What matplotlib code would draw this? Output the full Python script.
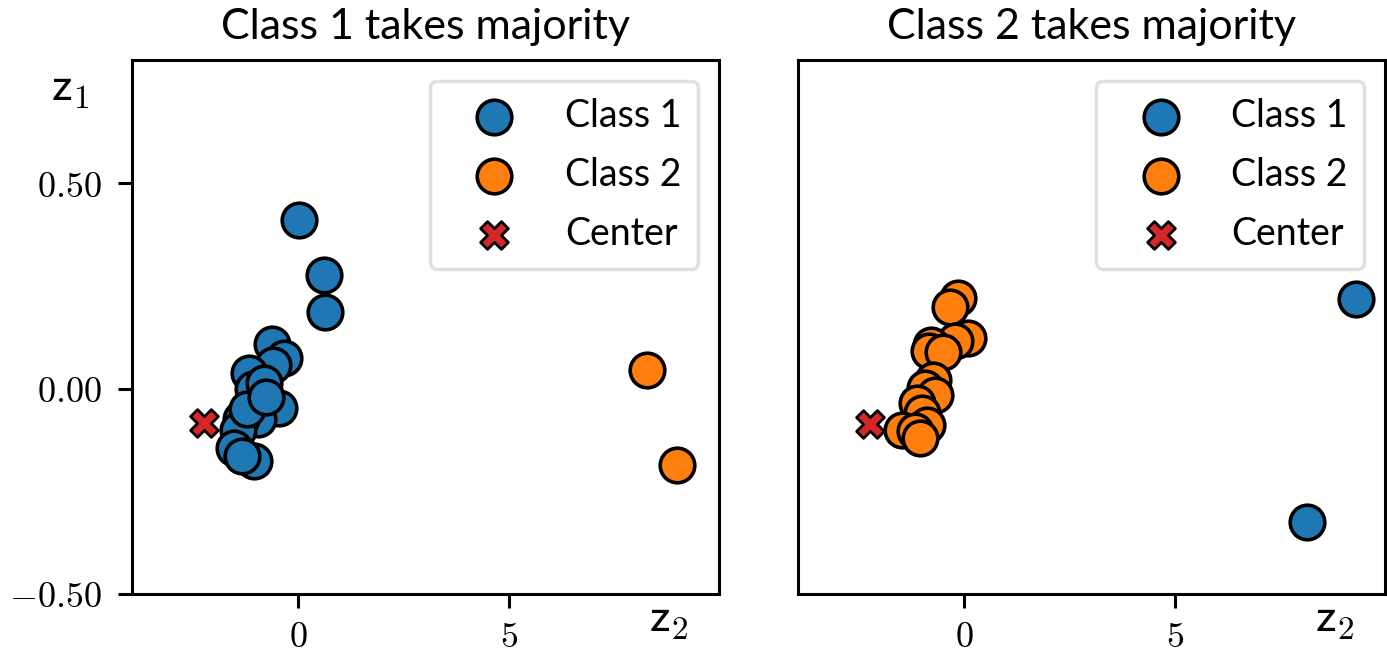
import numpy as np
import matplotlib.pyplot as plt
from matplotlib.ticker import FormatStrFormatter

plt.rcParams['mathtext.fontset'] = 'cm'
plt.rcParams['font.family'] = ['Lato', 'DejaVu Sans']

# panel 1: class 1 takes majority
c1_left_x = [0.03, 0.61, 0.64, -0.62, -0.32, -0.59, -1.15, -1.07, -0.80, -0.44,
             -0.95, -1.35, -1.43, -1.51, -1.04, -1.33, -1.20, -0.75]
c1_left_y = [0.41, 0.276, 0.187, 0.109, 0.075, 0.058, 0.038, -0.002, 0.014, -0.047,
             -0.075, -0.075, -0.10, -0.144, -0.177, -0.165, -0.05, -0.02]
c2_left_x = [8.27, 8.98]
c2_left_y = [0.046, -0.185]

# panel 2: class 2 takes majority
c1_right_x = [9.29, 8.13]
c1_right_y = [0.217, -0.324]
c2_right_x = [-0.13, -0.33, 0.10, -0.21, -0.77, -0.84, -0.50, -0.73, -0.92, -0.69,
              -1.12, -1.00, -0.88, -1.47, -1.16, -1.04]
c2_right_y = [0.221, 0.199, 0.123, 0.115, 0.107, 0.091, 0.088, 0.022, 0.002, -0.015,
              -0.035, -0.059, -0.088, -0.10, -0.104, -0.12]

center_x = [-2.22, -2.23]
center_y = [-0.083, -0.085]

titles = ['Class 1 takes majority', 'Class 2 takes majority']
panels = [
    (c1_left_x, c1_left_y, c2_left_x, c2_left_y, center_x[0], center_y[0]),
    (c1_right_x, c1_right_y, c2_right_x, c2_right_y, center_x[1], center_y[1]),
]

fig, axes = plt.subplots(1, 2, figsize=(13.87, 6.53), dpi=100, sharey=True)
fig.subplots_adjust(left=0.0952, right=0.9986, bottom=0.0904, top=0.9081, wspace=0.135)

for ax, title, (bx, by, ox, oy, cx, cy) in zip(axes, titles, panels):
    ax.scatter(bx, by, s=620, c='#1f77b4', edgecolors='black', linewidths=2.6,
               label='Class 1', zorder=3)
    ax.scatter(ox, oy, s=620, c='#ff7f0e', edgecolors='black', linewidths=2.6,
               label='Class 2', zorder=3)
    ax.scatter([cx], [cy], s=400, marker='X', c='#d62728', edgecolors='black',
               linewidths=2.0, label='Center', zorder=4)
    ax.set_title(title, fontsize=31, pad=15)
    ax.set_xlim(-3.93, 9.98)
    ax.set_ylim(-0.5, 0.8)
    ax.set_xticks([0, 5])
    ax.set_yticks([-0.5, 0.0, 0.5])
    ax.xaxis.set_major_formatter(FormatStrFormatter('$%d$'))
    ax.yaxis.set_major_formatter(FormatStrFormatter('$%.2f$'))
    ax.tick_params(length=10, width=2.2, labelsize=26)
    ax.tick_params(axis='x', pad=9)
    ax.tick_params(axis='y', pad=12)
    for sp in ax.spines.values():
        sp.set_linewidth(2.2)
    leg = ax.legend(loc='upper right', fontsize=27, handlelength=2.56,
                    handletextpad=0.6, borderpad=0.45, labelspacing=0.62,
                    frameon=True, fancybox=True, borderaxespad=0.55)
    leg.get_frame().set_linewidth(2.5)
    leg.get_frame().set_edgecolor('#d9d9d9')
    ax.set_xlabel('$\\mathsf{z}_2$', fontsize=34)
    ax.xaxis.set_label_coords(0.915, -0.012)

axes[1].tick_params(labelleft=False, left=False)
axes[0].set_ylabel('$\\mathsf{z}_1$', fontsize=34, rotation=0)
axes[0].yaxis.set_label_coords(-0.105, 0.905)

fig.savefig('out.png', dpi=100)
